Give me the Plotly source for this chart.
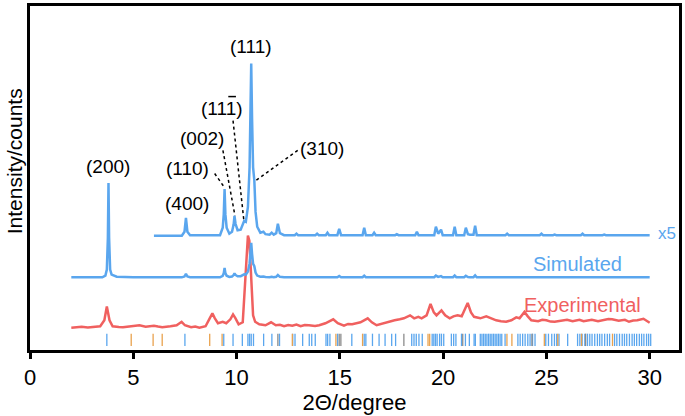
import plotly.graph_objects as go

# ---------------- data ----------------
# Simulated pattern: 2-theta (deg) and intensity (a.u., scale of the "Simulated" trace)
sim_2theta = [2.0, 3.5, 3.65, 3.72, 3.77, 3.8, 3.83, 3.88, 3.95, 4.2, 5.0, 6.0, 7.35, 7.48, 7.55, 7.62, 7.75,
              9.2, 9.33, 9.38, 9.42, 9.46, 9.52, 9.65, 9.78, 9.86, 9.9, 9.95, 10.05, 10.2, 10.37, 10.45,
              10.55, 10.63, 10.68, 10.71, 10.75, 10.8, 10.86, 10.92, 11.0, 11.15, 11.3, 11.4, 11.6, 11.7,
              11.8, 11.92, 12.0, 12.1, 12.3, 12.82, 12.9, 12.98, 13.82, 13.9, 13.98, 14.32, 14.4, 14.48,
              14.88, 14.97, 15.06, 16.1, 16.18, 16.26, 16.58, 16.66, 16.74, 17.68, 17.76, 17.84, 18.65,
              18.73, 18.81, 19.57, 19.65, 19.76, 19.9, 19.98, 20.48, 20.56, 20.64, 21.02, 21.1, 21.2,
              21.3, 21.47, 21.55, 21.63, 23.02, 23.1, 23.18, 23.57, 23.65, 23.73, 23.97, 24.05, 24.13,
              24.68, 24.76, 24.84, 25.32, 25.4, 25.48, 26.67, 26.75, 26.83, 27.72, 27.8, 27.88, 28.92,
              29.0, 29.08, 29.52, 29.6, 29.68, 30.0]
sim_intensity = [0.2, 0.3, 2.0, 8.0, 40.0, 95.5, 40.0, 8.0, 3.0, 0.8, 0.2, 0.2, 0.2, 1.0, 3.8, 1.0, 0.3,
                 0.3, 1.8, 4.5, 9.6, 4.5, 1.8, 0.6, 1.0, 2.5, 4.2, 2.6, 1.3, 1.4, 3.2, 3.0,
                 6.0, 14.0, 26.0, 35.0, 24.0, 14.0, 11.4, 5.0, 2.0, 0.8, 1.0, 0.5, 0.4, 0.8,
                 0.4, 0.7, 2.6, 0.7, 0.3, 0.3, 0.6, 0.3, 0.3, 0.6, 0.3, 0.3, 0.8, 0.3,
                 0.3, 1.6, 0.3, 0.3, 1.8, 0.3, 0.3, 0.8, 0.3, 0.3, 0.5, 0.3, 0.3,
                 1.0, 0.3, 0.3, 2.0, 0.6, 1.4, 0.3, 0.3, 2.0, 0.3, 0.3, 1.8, 0.5,
                 0.4, 0.4, 2.2, 0.3, 0.3, 0.6, 0.3, 0.3, 0.4, 0.3, 0.3, 0.4, 0.3,
                 0.3, 0.6, 0.3, 0.3, 0.4, 0.3, 0.3, 0.6, 0.3, 0.3, 0.4, 0.3, 0.3,
                 0.4, 0.3, 0.3, 0.4, 0.3, 0.3]
sim_zoom_factor = 5          # the "x5" trace
sim_zoom_start = 6.0         # x5 trace starts at 6 degrees

# Experimental pattern
exp_2theta = [2.0, 2.3, 2.5, 2.8, 3.0, 3.2, 3.4, 3.6, 3.72, 3.85, 4.0, 4.3, 4.5, 4.8, 5.0, 5.3, 5.6, 6.0,
              6.2, 6.4, 6.8, 7.1, 7.34, 7.5, 7.8, 8.0, 8.2, 8.5, 8.7, 8.83, 8.95, 9.1, 9.33, 9.5, 9.7,
              9.83, 9.95, 10.1, 10.3, 10.45, 10.55, 10.62, 10.7, 10.8, 10.9, 11.1, 11.4, 11.67, 11.9,
              12.1, 12.3, 12.5, 12.7, 12.9, 13.1, 13.3, 13.5, 13.8, 14.0, 14.3, 14.68, 14.9, 15.2,
              15.4, 15.6, 16.0, 16.35, 16.55, 16.78, 17.1, 17.4, 17.65, 17.9, 18.1, 18.4, 18.6, 18.8,
              18.96, 19.2, 19.39, 19.55, 19.68, 19.92, 20.1, 20.32, 20.5, 20.7, 20.9, 21.19, 21.35,
              21.5, 21.8, 22.09, 22.3, 22.57, 22.8, 23.05, 23.3, 23.54, 23.7, 23.94, 24.1, 24.27, 24.6,
              24.8, 25.0, 25.2, 25.4, 25.8, 26.0, 26.27, 26.6, 26.8, 27.0, 27.2, 27.5, 27.8, 28.0,
              28.18, 28.5, 28.8, 29.0, 29.2, 29.4, 29.7, 29.85, 30.0]
exp_intensity = [0, 0.8, 1, 0.3, 0.5, 1.2, 1.5, 7.5, 21.5, 7.5, 1.5, 0.8, 0.5, 1.2, 1.5, 2.5, 1, 2,
                 1.2, 0.5, 1.5, 2.5, 6, 2.5, 0.5, 1.2, 0, 1.5, 9.5, 14.5, 9.5, 4.5, 6, 4.5, 8.5,
                 13.5, 9.5, 3.5, 5.5, 57.5, 93.0, 88.0, 57.5, 12.5, 6, 3.5, 2.5, 5.5, 2.5,
                 3.0, 1.5, 2.8, 2, 3.2, 1.5, 2.8, 2.5, 1.8, 2.5, 4.5, 8.5, 4.5, 2,
                 3.8, 3.5, 5.5, 9.5, 5.5, 2.5, 4.5, 6.5, 7.5, 8.5, 9.5, 12.5, 9.5, 11,
                 9.5, 12.5, 24, 15.5, 12.5, 17.5, 12.5, 9.5, 11.5, 12.5, 11.5, 25, 15.5,
                 11, 9.5, 11.5, 9.5, 7.5, 6.5, 6, 7.5, 10.5, 9.5, 16, 11.5, 7.5, 6.5,
                 8, 7.5, 6.2, 6, 7, 8, 6.5, 8, 6.5, 7, 8, 6.5, 7.5, 8.8,
                 8.5, 7, 8, 6, 7.2, 7.5, 9, 7, 5]

# Reflection markers (2-theta positions)
refl_blue = [3.72, 7.5, 9.38, 9.83, 10.28, 10.55, 10.63, 10.71, 10.82, 11.31, 11.71, 12.08, 12.72, 12.83,
             13.2, 13.52, 13.64, 13.81, 14.33, 14.41, 14.52, 14.89, 15.58, 16.18, 16.26, 16.58, 16.9,
             17.19, 17.51, 17.7, 18.48, 18.59, 18.7, 18.83, 18.99, 19.47, 19.55, 19.63, 19.71, 19.83,
             19.92, 20.03, 20.4, 20.51, 20.62, 20.89, 21.08, 21.27, 21.5, 21.56, 21.8, 21.88, 21.96,
             22.04, 22.12, 22.2, 22.28, 22.36, 22.44, 22.52, 22.6, 22.68, 22.76, 22.84, 23.0, 23.62,
             23.73, 23.85, 23.97, 24.1, 24.21, 24.33, 24.45, 24.97, 25.1, 25.26, 25.39, 25.5, 25.61,
             26.03, 26.51, 26.62, 26.73, 26.86, 26.99, 27.1, 27.21, 27.34, 27.47, 27.58, 27.69, 27.82,
             27.95, 28.06, 28.3, 28.41, 28.54, 28.67, 28.78, 28.89, 29.02, 29.15, 29.26, 29.37, 29.5,
             29.61, 29.72, 29.85, 29.95, 30.05]
refl_orange = [4.9, 5.96, 6.4, 8.7, 9.3, 12.7, 14.81, 16.1, 19.27, 19.35, 23.09, 23.33, 24.9, 25.55,
               26.7, 28.2]
refl_gray = [12.0, 14.97, 15.05, 18.1, 20.95, 24.3, 26.9]

x_ticks = [0, 5, 10, 15, 20, 25, 30]

# peak labels: (text, 2-theta of the peak)
peak_labels = [("(200)", 3.8), ("(400)", 7.55), ("(110)", 9.42), ("(002)", 9.9),
               ("(111)", 10.37), ("(111)", 10.71), ("(310)", 10.86)]

# ---------------- layout constants ----------------
BLUE = "#5AA6EE"
RED = "#F0605F"
ORANGE = "#E9A24E"
GRAY = "#8C8C8C"
FONT = "Liberation Sans, Arial, Helvetica, sans-serif"

OFF_X5 = 114.5
OFF_SIM = 73.2
OFF_EXP = 22.5
REFL_Y0, REFL_Y1 = 4.0, 16.5
Y_MAX = 347.5
X_MAX = 31.42

x5_x = [x for x in sim_2theta if x >= sim_zoom_start]
x5_y = [OFF_X5 + sim_zoom_factor * v for x, v in zip(sim_2theta, sim_intensity) if x >= sim_zoom_start]
sim_y = [OFF_SIM + v for v in sim_intensity]
exp_y = [OFF_EXP + v for v in exp_intensity]


def x5_at(tt):
    i = sim_2theta.index(tt)
    return OFF_X5 + sim_zoom_factor * sim_intensity[i]


def seg(xs):
    X, Y = [], []
    for x in xs:
        X += [x, x, None]
        Y += [REFL_Y0, REFL_Y1, None]
    return X, Y


fig = go.Figure()
for xs, col in [(refl_blue, BLUE), (refl_orange, ORANGE), (refl_gray, GRAY)]:
    X, Y = seg(xs)
    fig.add_trace(go.Scatter(x=X, y=Y, mode="lines", line=dict(color=col, width=1.3),
                             hoverinfo="skip", showlegend=False))

fig.add_trace(go.Scatter(x=exp_2theta, y=exp_y, mode="lines", line=dict(color=RED, width=2.5),
                         showlegend=False))
fig.add_trace(go.Scatter(x=sim_2theta, y=sim_y, mode="lines", line=dict(color=BLUE, width=2.5),
                         showlegend=False))
fig.add_trace(go.Scatter(x=x5_x, y=x5_y, mode="lines", line=dict(color=BLUE, width=2.5),
                         showlegend=False))

# Peak labels (positions in data coordinates)
label_pos = [(3.785, 185), (7.58, 148), (7.64, 183.3), (8.32, 213.3), (9.28, 244),
             (10.68, 307), (14.15, 203.3)]
for (text, tt), (lx, ly) in zip(peak_labels, label_pos):
    fig.add_annotation(x=lx, y=ly, text=text, showarrow=False,
                       font=dict(family=FONT, size=19, color="black"))
# overbar on the last index of (11-1)
fig.add_shape(type="line", x0=9.6, x1=9.97, y0=256, y1=256, line=dict(color="black", width=1.5))

# Dotted leader lines: from label to peak
leaders = [((8.94, 178.3), 9.42, 0.0, 1.5), ((9.34, 201.7), 9.9, 0.02, 0.5),
           ((9.83, 231.7), 10.37, -0.02, 1.0), ((12.96, 201.7), 10.86, 0.1, 0.0)]
for (sx, sy), tt, dx, dy in leaders:
    fig.add_shape(type="line", x0=sx, y0=sy, x1=tt + dx, y1=x5_at(tt) + dy,
                  line=dict(color="black", width=1.5, dash="dot"))

fig.add_annotation(x=26.5, y=87, text="Simulated", showarrow=False,
                   font=dict(family=FONT, size=20, color=BLUE))
fig.add_annotation(x=26.74, y=45, text="Experimental", showarrow=False,
                   font=dict(family=FONT, size=20, color=RED))
fig.add_annotation(x=30.3, y=118, text="x5", showarrow=False, xanchor="left",
                   font=dict(family=FONT, size=17, color=BLUE))
fig.add_annotation(xref="paper", yref="paper", x=-0.024, y=0.55, text="Intensity/counts",
                   textangle=-90, showarrow=False, xanchor="center", borderpad=0,
                   font=dict(family=FONT, size=21, color="black"))

fig.update_layout(
    width=685, height=416,
    margin=dict(l=30, r=4, t=3, b=66),
    paper_bgcolor="white", plot_bgcolor="white",
    font=dict(family=FONT, size=22, color="black"),
    xaxis=dict(range=[0, X_MAX], tickvals=x_ticks, ticks="outside", ticklen=6, tickwidth=2.5,
               tickcolor="black", showline=True, linewidth=3, linecolor="black", mirror=True,
               showgrid=False, zeroline=False,
               title=dict(text="2\u0398/degree", font=dict(family=FONT, size=22), standoff=4),
               tickfont=dict(family=FONT, size=22)),
    yaxis=dict(range=[0, Y_MAX], showticklabels=False, ticks="", showline=True, linewidth=3,
               linecolor="black", mirror=True, showgrid=False, zeroline=False),
)

fig.write_html("out.html", config={"displayModeBar": False},
               post_script="document.body.style.margin='0';")
